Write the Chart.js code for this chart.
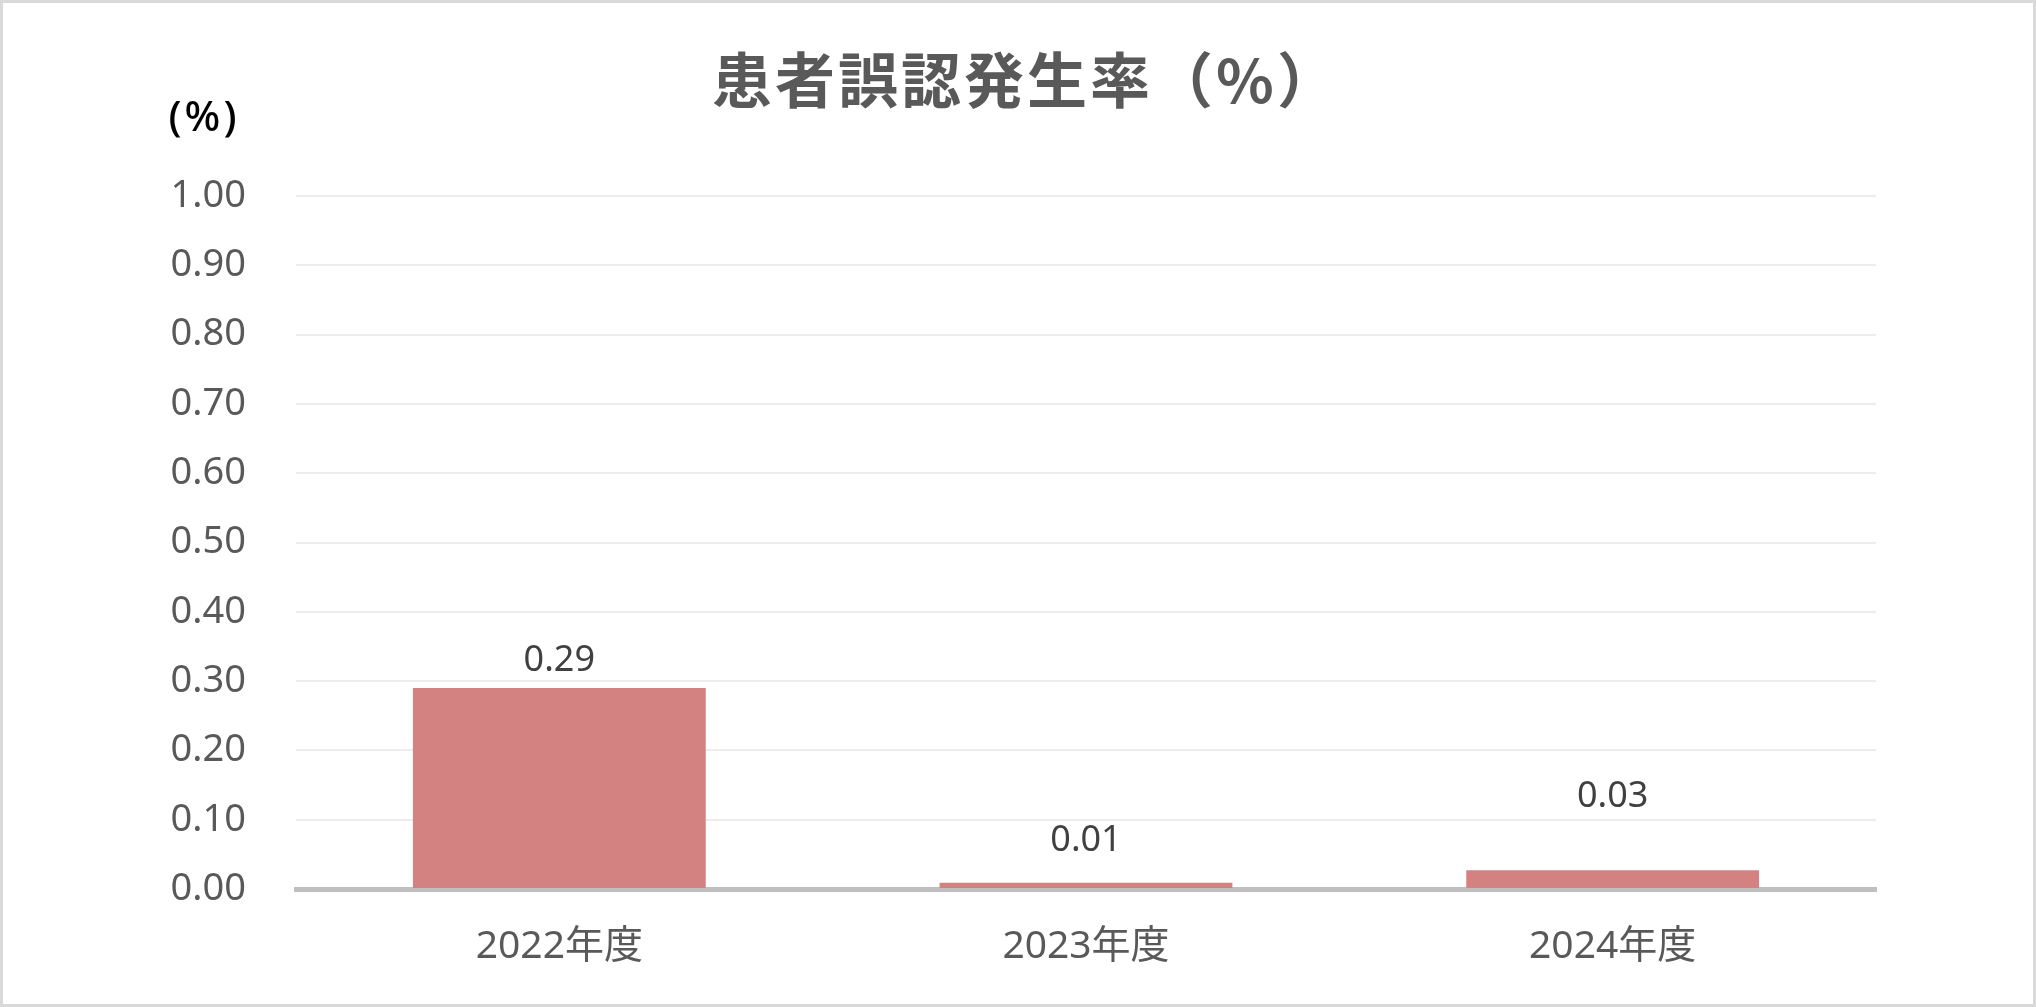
<!DOCTYPE html>
<html lang="ja">
<head>
<meta charset="utf-8">
<title>患者誤認発生率（%）</title>
<script src="https://cdn.jsdelivr.net/npm/chart.js@4/dist/chart.umd.min.js"></script>
<style>
  html, body { margin: 0; padding: 0; background: #fff; }
  #wrap { width: 2036px; height: 1007px; }
</style>
</head>
<body>
<div id="wrap"><canvas id="chart"></canvas></div>
<script>
// ── Data ──────────────────────────────────────────────────
const categories = ['2022年度', '2023年度', '2024年度'];
const rates      = [0.29, 0.009, 0.027];
const yTicks     = [0, 0.1, 0.2, 0.3, 0.4, 0.5, 0.6, 0.7, 0.8, 0.9, 1.0];
const chartTitle = '患者誤認発生率（%）';
const unitLabel  = '(%)';

// label lift above each bar (px) – the source places them unevenly
const labelLift = [27, 42, 74];

const FONT = "'Noto Sans', 'Noto Sans CJK JP', sans-serif";

// ── Plugins ───────────────────────────────────────────────
const decor = {
  id: 'decor',
  beforeDraw(chart) {
    const { ctx, width, height } = chart;
    ctx.save();
    ctx.fillStyle = '#fff';
    ctx.fillRect(0, 0, width, height);
    ctx.restore();
  },
  afterDraw(chart) {
    const { ctx, width, height } = chart;
    ctx.save();
    // title
    ctx.fillStyle = '#595959';
    ctx.font = "bold 60px 'Noto Sans CJK JP', sans-serif";
    ctx.letterSpacing = '3px';
    ctx.textAlign = 'center';
    ctx.textBaseline = 'middle';
    ctx.fillText(chartTitle, width / 2 + 8, 80);
    // unit
    ctx.fillStyle = '#000';
    ctx.font = '500 42px ' + FONT;
    ctx.letterSpacing = '3px';
    ctx.fillText(unitLabel, 204, 119);
    ctx.letterSpacing = '0px';
    // value labels
    const meta = chart.getDatasetMeta(0);
    ctx.fillStyle = '#404040';
    ctx.font = '36px ' + FONT;
    meta.data.forEach((bar, i) => {
      ctx.fillText(rates[i].toFixed(2), bar.x, bar.y - labelLift[i]);
    });
    // frame
    ctx.strokeStyle = '#d9d9d9';
    ctx.lineWidth = 3;
    ctx.strokeRect(1.5, 1.5, width - 3, height - 3);
    ctx.restore();
  }
};

// ── Chart ─────────────────────────────────────────────────
new Chart(document.getElementById('chart'), {
  type: 'bar',
  data: {
    labels: categories,
    datasets: [{
      data: rates,
      backgroundColor: '#d38281',
      borderWidth: 0,
      categoryPercentage: 1,
      barPercentage: 0.556
    }]
  },
  options: {
    responsive: true,
    maintainAspectRatio: false,
    animation: false,
    layout: { padding: { top: 196, right: 160, left: 0, bottom: 0 } },
    plugins: {
      legend: { display: false },
      tooltip: { enabled: false },
      title: { display: false }
    },
    scales: {
      x: {
        z: 1,
        grid: { display: false },
        border: { display: true, color: '#bfbfbf', width: 5 },
        ticks: { color: '#595959', font: { family: FONT, size: 39 }, padding: 26 },
        afterFit: s => { s.height = 118; }
      },
      y: {
        min: 0,
        max: 1,
        afterBuildTicks: s => { s.ticks = yTicks.map(v => ({ value: v })); },
        grid: { color: '#ececec', lineWidth: 2, drawTicks: false },
        border: { display: false },
        ticks: {
          color: '#595959',
          font: { family: FONT, size: 38 },
          padding: 50,
          callback: v => v.toFixed(2)
        },
        afterFit: s => { s.width = 296; }
      }
    }
  },
  plugins: [decor]
});
</script>
</body>
</html>
